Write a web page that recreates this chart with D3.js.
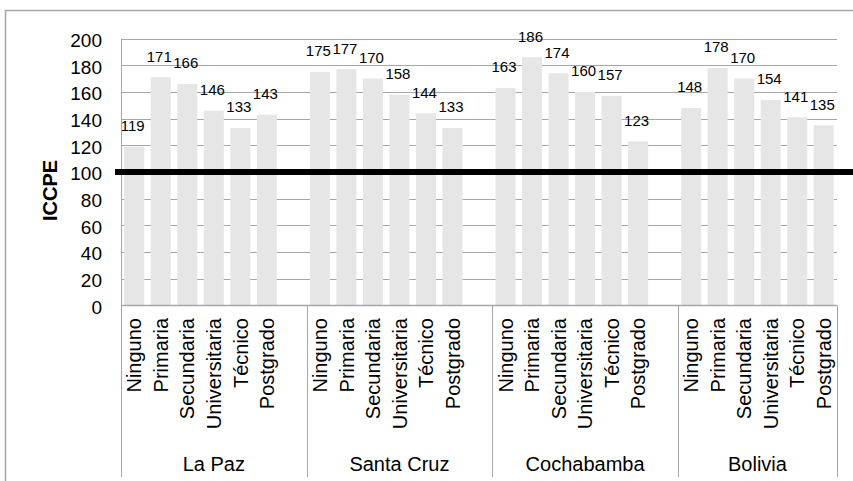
<!DOCTYPE html>
<html><head><meta charset="utf-8">
<script src="https://cdn.jsdelivr.net/npm/d3@7"></script>
<style>
html,body{margin:0;padding:0;background:#fff;}
svg{display:block;font-family:"Liberation Sans",Arial,sans-serif;}
</style></head>
<body><svg id="c" width="853" height="481"></svg>
<script>
const groups = ["La Paz", "Santa Cruz", "Cochabamba", "Bolivia"];
const levels = ["Ninguno", "Primaria", "Secundaria", "Universitaria", "Técnico", "Postgrado"];
const valuesLaPaz = [119, 171, 166, 146, 133, 143];
const valuesSantaCruz = [175, 177, 170, 158, 144, 133];
const valuesCochabamba = [163, 186, 174, 160, 157, 123];
const valuesBolivia = [148, 178, 170, 154, 141, 135];
const yTicks = [0, 20, 40, 60, 80, 100, 120, 140, 160, 180, 200];
const refValue = 100;
const yLabel = "ICCPE";

const seriesByGroup = [valuesLaPaz, valuesSantaCruz, valuesCochabamba, valuesBolivia];

(function draw() {
  // build category slots (Excel-like blank slot between groups)
  const slots = [];
  groups.forEach((g, gi) => {
    levels.forEach((l, li) => slots.push({key: g + "|" + l, group: g, level: l, value: seriesByGroup[gi][li]}));
    if (gi < groups.length - 1) slots.push({key: g + "|blank", group: g, level: null, value: null});
  });

  const svg = d3.select("#c");
  const pLeft = 121, pRight = 837, pTop = 38.5, pBottom = 305.5;

  const x = d3.scaleBand().domain(slots.map(d => d.key)).range([pLeft, pRight]).paddingInner(0.245).paddingOuter(0.1225);
  const y = d3.scaleLinear().domain([0, 200]).range([pBottom, pTop]);

  // outer border
  svg.append("rect").attr("x", 5.5).attr("y", 10.5).attr("width", 870).attr("height", 500)
    .attr("fill", "none").attr("stroke", "#a6a6a6").attr("stroke-width", 1.5);

  // gridlines
  svg.append("g").selectAll("line").data(yTicks.filter(t => t > 0)).join("line")
    .attr("x1", pLeft).attr("x2", pRight).attr("y1", d => Math.round(y(d)) + 0.5).attr("y2", d => Math.round(y(d)) + 0.5)
    .attr("stroke", "#a6a6a6").attr("stroke-width", 1);

  // y tick labels
  svg.append("g").selectAll("text").data(yTicks).join("text")
    .attr("x", 102).attr("y", d => y(d) + 8.3).attr("text-anchor", "end")
    .attr("font-size", 19).attr("fill", "#000").text(d => d);

  // y label
  svg.append("text").attr("transform", "translate(56.5,190.5) rotate(-90)").attr("text-anchor", "middle")
    .attr("font-size", 20).attr("font-weight", "bold").attr("fill", "#000").text(yLabel);

  // bars
  const data = slots.filter(d => d.value !== null);
  svg.append("g").selectAll("rect").data(data).join("rect")
    .attr("x", d => x(d.key)).attr("width", x.bandwidth())
    .attr("y", d => y(d.value)).attr("height", d => y(0) - y(d.value))
    .attr("fill", "#e6e6e7");

  // data labels
  svg.append("g").selectAll("text").data(data).join("text")
    .attr("x", d => x(d.key) + x.bandwidth() / 2 - 1.5).attr("y", d => y(d.value) - 15.5)
    .attr("text-anchor", "middle").attr("font-size", 15).attr("fill", "#000").text(d => d.value);

  // x axis line
  svg.append("line").attr("x1", pLeft).attr("x2", pRight).attr("y1", pBottom).attr("y2", pBottom)
    .attr("stroke", "#a6a6a6").attr("stroke-width", 1.5);
  // y axis line
  svg.append("line").attr("x1", pLeft + 0.5).attr("x2", pLeft + 0.5).attr("y1", pTop).attr("y2", pBottom)
    .attr("stroke", "#a6a6a6").attr("stroke-width", 1);

  // group separators
  const sepX = groups.map(g => x(slots.find(s => s.group === g).key) - x.step() * x.paddingOuter());
  sepX.push(pRight);
  svg.append("g").selectAll("line").data(sepX).join("line")
    .attr("x1", d => Math.round(d) + 0.5).attr("x2", d => Math.round(d) + 0.5)
    .attr("y1", pBottom).attr("y2", 477).attr("stroke", "#a6a6a6").attr("stroke-width", 1);

  // category labels
  svg.append("g").selectAll("text").data(data).join("text")
    .attr("transform", d => `translate(${x(d.key) + x.bandwidth() / 2},318) rotate(-90)`)
    .attr("dy", "0.36em").attr("text-anchor", "end").attr("font-size", 20).attr("fill", "#000").text(d => d.level);

  // group labels
  svg.append("g").selectAll("text").data(groups).join("text")
    .attr("x", (d, i) => (sepX[i] + sepX[i + 1]) / 2).attr("y", 471)
    .attr("text-anchor", "middle").attr("font-size", 20).attr("fill", "#000").text(d => d);

  // reference line
  svg.append("line").attr("x1", 115).attr("x2", 853).attr("y1", y(refValue)).attr("y2", y(refValue))
    .attr("stroke", "#000").attr("stroke-width", 6);
})();
</script></body></html>
